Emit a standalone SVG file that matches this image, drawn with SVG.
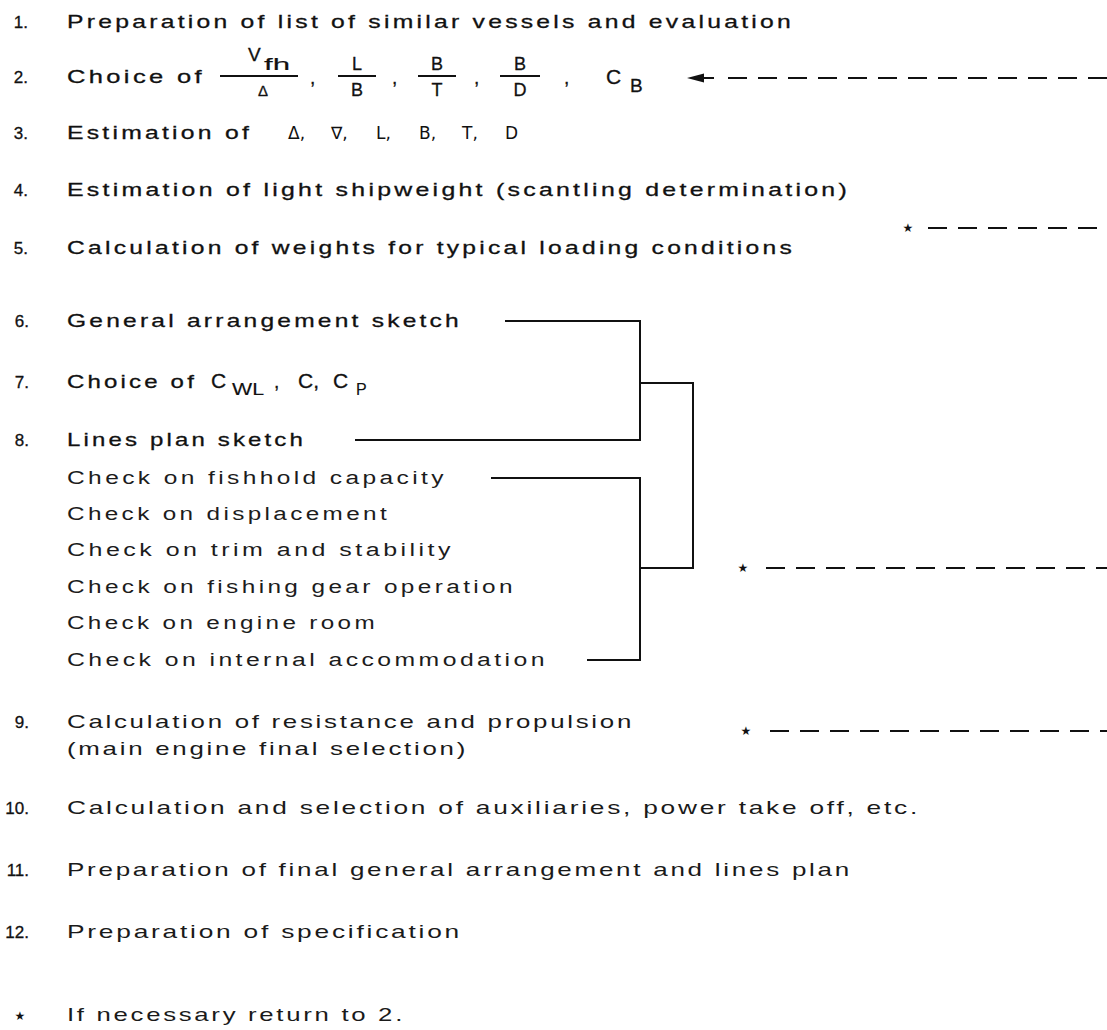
<svg xmlns="http://www.w3.org/2000/svg" width="1107" height="1030" viewBox="0 0 1107 1030">
<style>
text{font-family:"Liberation Sans",Arial,sans-serif;fill:#111;}
.t{font-size:19px;letter-spacing:2.5px;stroke:#111;stroke-width:0.3px;}
.u{font-size:19px;letter-spacing:2px;fill:#1a1a1a;}
.c{font-size:18px;letter-spacing:2.5px;fill:#1c1c1c;}
.n{font-size:17px;text-anchor:end;stroke:#111;stroke-width:0.3px;}
.m{font-size:18px;text-anchor:middle;stroke:#111;stroke-width:0.3px;}
.g{font-size:19px;stroke:#111;stroke-width:0.3px;}
.s{font-size:16px;stroke:#111;stroke-width:0.15px;}
.sym{font-family:"DejaVu Sans","Liberation Sans",sans-serif;font-size:17px;}
.star{font-family:"DejaVu Sans",sans-serif;font-size:12px;text-anchor:middle;}
.br{fill:none;stroke:#111;stroke-width:2;}
.bar{stroke:#111;stroke-width:1.8;}
.dash{fill:none;stroke:#111;stroke-width:2.2;stroke-dasharray:19 11;}
</style>
<rect width="1107" height="1030" fill="#fff"/>
<g id="step1"><text class="n" x="28" y="28">1.</text><text class="t" x="67" y="28" textLength="727" lengthAdjust="spacingAndGlyphs">Preparation of list of similar vessels and evaluation</text></g>
<g id="step2">
<text class="n" x="28" y="83">2.</text>
<text class="t" x="67" y="83" textLength="138" lengthAdjust="spacingAndGlyphs">Choice of</text>
<line class="bar" x1="220" y1="76" x2="298" y2="76"/>
<text class="g" x="248" y="61">V</text><text class="s" x="264" y="70" textLength="26" lengthAdjust="spacingAndGlyphs">fh</text>
<text class="m" x="263" y="96" style="font-size:15px">Δ</text>
<text class="g" x="310" y="84">,</text>
<line class="bar" x1="338" y1="76" x2="376" y2="76"/>
<text class="m" x="357" y="70">L</text><text class="m" x="357" y="96">B</text>
<text class="g" x="392" y="84">,</text>
<line class="bar" x1="418" y1="76" x2="456" y2="76"/>
<text class="m" x="437" y="70">B</text><text class="m" x="437" y="96">T</text>
<text class="g" x="474" y="84">,</text>
<line class="bar" x1="500" y1="76" x2="540" y2="76"/>
<text class="m" x="520" y="70">B</text><text class="m" x="520" y="96">D</text>
<text class="g" x="564" y="84">,</text>
<text class="g" x="606" y="84" style="font-size:21px">C</text><text class="g" x="630" y="92">B</text>
</g>
<g id="step3">
<text class="n" x="28" y="139">3.</text>
<text class="t" x="67" y="139" textLength="185" lengthAdjust="spacingAndGlyphs">Estimation of</text>
<text class="sym" y="139"><tspan x="288">Δ,</tspan><tspan x="331">∇,</tspan><tspan x="376">L,</tspan><tspan x="419">B,</tspan><tspan x="462">T,</tspan><tspan x="505">D</tspan></text>
</g>
<g id="step4"><text class="n" x="28" y="196">4.</text><text class="t" x="67" y="196" textLength="783" lengthAdjust="spacingAndGlyphs">Estimation of light shipweight (scantling determination)</text></g>
<g id="step5"><text class="n" x="28" y="254">5.</text><text class="t" x="67" y="254" textLength="728" lengthAdjust="spacingAndGlyphs">Calculation of weights for typical loading conditions</text></g>
<g id="step6"><text class="n" x="29" y="327">6.</text><text class="t" x="67" y="327" textLength="395" lengthAdjust="spacingAndGlyphs">General arrangement sketch</text></g>
<g id="step7">
<text class="n" x="29" y="388">7.</text>
<text class="t" x="67" y="388" textLength="130" lengthAdjust="spacingAndGlyphs">Choice of</text>
<text class="g" x="211" y="388" style="font-size:21px">C</text><text class="s" x="232" y="395" textLength="32" lengthAdjust="spacingAndGlyphs">WL</text>
<text class="g" x="274" y="388">,</text>
<text class="g" x="298" y="388" style="font-size:21px">C,</text>
<text class="g" x="333" y="388" style="font-size:21px">C</text><text class="s" x="356" y="395">P</text>
</g>
<g id="step8"><text class="n" x="29" y="446">8.</text><text class="t" x="67" y="446" textLength="239" lengthAdjust="spacingAndGlyphs">Lines plan sketch</text></g>
<g id="checks">
<text class="c" x="67" y="484" textLength="380" lengthAdjust="spacingAndGlyphs">Check on fishhold capacity</text>
<text class="c" x="67" y="520" textLength="323" lengthAdjust="spacingAndGlyphs">Check on displacement</text>
<text class="c" x="67" y="556" textLength="387" lengthAdjust="spacingAndGlyphs">Check on trim and stability</text>
<text class="c" x="67" y="593" textLength="449" lengthAdjust="spacingAndGlyphs">Check on fishing gear operation</text>
<text class="c" x="67" y="629" textLength="311" lengthAdjust="spacingAndGlyphs">Check on engine room</text>
<text class="c" x="67" y="666" textLength="481" lengthAdjust="spacingAndGlyphs">Check on internal accommodation</text>
</g>
<g id="step9"><text class="n" x="29" y="728">9.</text><text class="u" x="67" y="728" textLength="567" lengthAdjust="spacingAndGlyphs">Calculation of resistance and propulsion</text><text class="u" x="67" y="755" textLength="401" lengthAdjust="spacingAndGlyphs">(main engine final selection)</text></g>
<g id="step10"><text class="n" x="29" y="814">10.</text><text class="u" x="67" y="814" textLength="853" lengthAdjust="spacingAndGlyphs">Calculation and selection of auxiliaries, power take off, etc.</text></g>
<g id="step11"><text class="n" x="29" y="876">11.</text><text class="u" x="67" y="876" textLength="785" lengthAdjust="spacingAndGlyphs">Preparation of final general arrangement and lines plan</text></g>
<g id="step12"><text class="n" x="29" y="938">12.</text><text class="u" x="67" y="938" textLength="395" lengthAdjust="spacingAndGlyphs">Preparation of specification</text></g>
<g id="note"><text class="star" x="20" y="1020">★</text><text class="u" x="67" y="1021" textLength="338" lengthAdjust="spacingAndGlyphs">If necessary return to 2.</text></g>
<g id="connectors">
<path class="br" d="M505 321 H640 V440 H355"/>
<path class="br" d="M640 383 H693 V568 H640"/>
<path class="br" d="M491 478 H640 V660 H587"/>
<polygon points="687,78 704,73.5 704,82.5" fill="#111"/>
<line x1="700" y1="78" x2="714" y2="78" stroke="#111" stroke-width="2"/>
<line class="dash" x1="728" y1="78" x2="1107" y2="78"/>
<text class="star" x="908" y="232">★</text>
<line class="dash" x1="928" y1="228" x2="1107" y2="228"/>
<text class="star" x="743" y="572">★</text>
<line class="dash" x1="766" y1="568" x2="1107" y2="568"/>
<text class="star" x="746" y="735">★</text>
<line class="dash" x1="770" y1="731" x2="1107" y2="731"/>
</g>
</svg>
